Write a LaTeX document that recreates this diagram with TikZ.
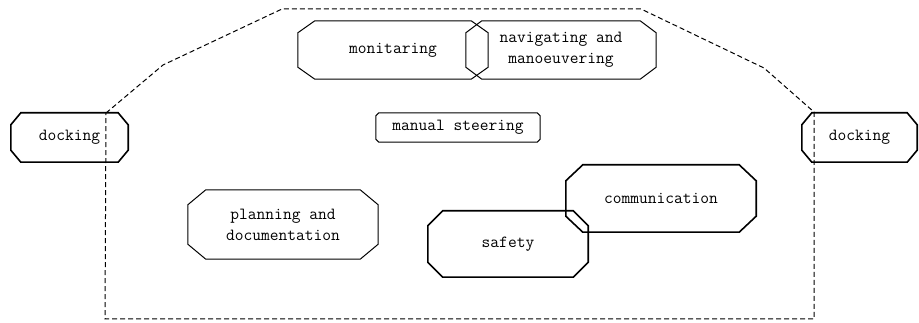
\documentclass[tikz,border=0pt]{standalone}
\usepackage{fontspec}
\usetikzlibrary{calc}

% outline with cut corners round a named node: [options]{node}{x cut}{y cut}
\newcommand{\cutbox}[4][]{%
  \draw[line width=1pt, #1]
    ($(#2.north west)+(#3,0)$) -- ($(#2.north east)+(-#3,0)$)
    -- ($(#2.north east)+(0,-#4)$) -- ($(#2.south east)+(0,#4)$)
    -- ($(#2.south east)+(-#3,0)$) -- ($(#2.south west)+(#3,0)$)
    -- ($(#2.south west)+(0,#4)$) -- ($(#2.north west)+(0,-#4)$) -- cycle;}

\begin{document}
\begin{tikzpicture}[
    x=1pt, y=-1pt,
    task/.style={
        rectangle,
        inner sep=0pt,
        align=center,
        font=\fontsize{17}{21}\selectfont\ttfamily
    },
    heavy/.style={
        line width=1.6pt
    },
    hull/.style={
        dash pattern=on 5pt off 3pt,
        line width=1pt
    }
]
\useasboundingbox (0,0) rectangle (919,323);

% Top row
\node[task, minimum width=190pt, minimum height=58pt] (monit) at (393,50) {monitaring};
\cutbox{monit}{17pt}{12pt}
\node[task, minimum width=190pt, minimum height=58pt] (navig) at (561,50) {navigating and\\manoeuvering};
\cutbox{navig}{16pt}{12pt}

% Middle
\node[task, minimum width=164pt, minimum height=29pt] (manual) at (458,127.5) {manual steering};
\cutbox{manual}{3pt}{3pt}

% Docking on both ends
\node[task, minimum width=117pt, minimum height=49pt] (dockL) at (69.5,137.5) {docking};
\cutbox[heavy]{dockL}{10pt}{12pt}
\node[task, minimum width=115pt, minimum height=49pt] (dockR) at (859.5,137.5) {docking};
\cutbox[heavy]{dockR}{10pt}{12pt}

% Bottom row
\node[task, minimum width=190pt, minimum height=69pt] (plan) at (283,224.5) {planning and\\documentation};
\cutbox{plan}{18pt}{15pt}
\node[task, minimum width=160pt, minimum height=66pt] (safety) at (508,244) {safety};
\cutbox[heavy]{safety}{15pt}{15pt}
\node[task, minimum width=190pt, minimum height=67pt] (comm) at (661,198.5) {communication};
\cutbox[heavy]{comm}{17pt}{16pt}

% Boundary
\draw[hull] (106,113) -- (163,65) -- (282,9) -- (641,9) -- (764,68) -- (814,112)
    -- (814,319) -- (105,319) -- cycle;

\end{tikzpicture}
\end{document}
